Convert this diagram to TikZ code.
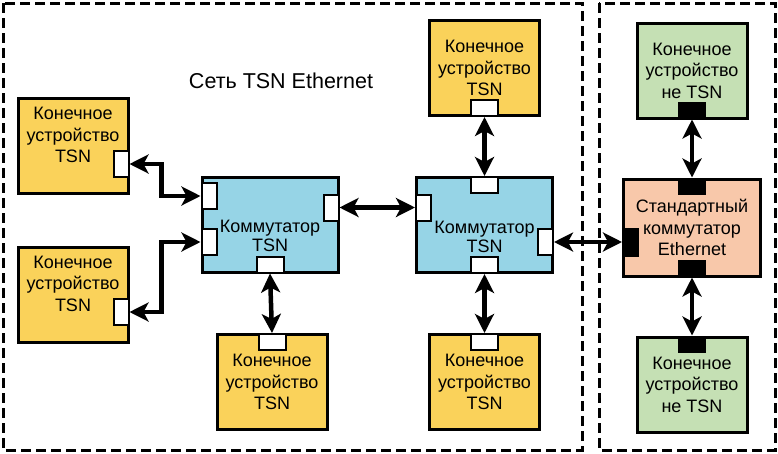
\documentclass[tikz,border=0pt]{standalone}
\usepackage{fontspec}
\setmainfont{Liberation Sans}
\usetikzlibrary{positioning}
\usetikzlibrary{arrows.meta}

\definecolor{endtsn}{RGB}{250,210,90}
\definecolor{swtsn}{RGB}{150,212,230}
\definecolor{stdsw}{RGB}{248,200,170}
\definecolor{endstd}{RGB}{197,224,180}

\tikzset{
	box/.style={draw, line width=3pt, minimum width=110pt, minimum height=95pt, inner sep=0pt},
	endbox/.style={box, fill=endtsn},
	grbox/.style={box, fill=endstd},
	swbox/.style={box, fill=swtsn, minimum width=136pt},
	stdbox/.style={box, fill=stdsw, minimum width=137pt, minimum height=97pt},
	vport/.style={draw, fill=white, line width=2pt, minimum width=15pt, minimum height=26pt, inner sep=0pt},
	hport/.style={draw, fill=white, line width=2pt, minimum width=27pt, minimum height=16pt, inner sep=0pt},
	vblk/.style={fill=black, minimum width=17pt, minimum height=29pt, inner sep=0pt},
	hblk/.style={fill=black, minimum width=28pt, minimum height=17pt, inner sep=0pt},
	txt/.style={align=center, inner sep=0pt, font=\fontsize{18}{21.5}\selectfont},
	link/.style={line width=4.5pt, {Stealth[length=19pt,width=19pt,inset=5pt]}-{Stealth[length=19pt,width=19pt,inset=5pt]}},
	zone/.style={line width=3pt, dash pattern=on 10pt off 5pt}
}

\begin{document}
\begin{tikzpicture}[x=1pt, y=-1pt]
	\useasboundingbox (0,0) rectangle (778,453);

	% zones
	\draw[zone] (3,3) rectangle (582,450);
	\draw[zone] (599,3) rectangle (775,450);
	\node[font=\fontsize{21.5}{25}\selectfont] (title) at (281,81) {Сеть TSN Ethernet};

	% end devices TSN
	\node[endbox] (endtl) at (73,146) {};
	\node[endbox] (endbl) at (73,294.5) {};
	\node[endbox] (endtm) at (484.5,68) {};
	\node[endbox] (endbm) at (272,382) {};
	\node[endbox] (endbr) at (484.5,382) {};
	\node[txt] (endtltxt) at ([yshift=11pt]endtl.center) {Конечное\\устройство\\TSN};
	\node[txt] (endbltxt) at ([yshift=11pt]endbl.center) {Конечное\\устройство\\TSN};
	\node[txt] (endtmtxt) at (endtm.center) {Конечное\\устройство\\TSN};
	\node[txt] (endbmtxt) at (endbm.center) {Конечное\\устройство\\TSN};
	\node[txt] (endbrtxt) at (endbr.center) {Конечное\\устройство\\TSN};

	% switches TSN
	\node[swbox] (swl) at (270,224.5) {};
	\node[swbox] (swr) at (484.5,225) {};
	\node[txt, font=\fontsize{18}{19.5}\selectfont] (swltxt) at ([yshift=-11.5pt]swl.center) {Коммутатор\\TSN};
	\node[txt, font=\fontsize{18}{19.5}\selectfont] (swrtxt) at ([yshift=-12pt]swr.center) {Коммутатор\\TSN};

	% standard part
	\node[stdbox] (std) at (692,227.5) {};
	\node[grbox] (grt) at (692,70.5) {};
	\node[grbox] (grb) at (692,384.5) {};
	\node[txt] (stdtxt) at (std.center) {Стандартный\\коммутатор\\Ethernet};
	\node[txt] (grttxt) at (grt.center) {Конечное\\устройство\\не TSN};
	\node[txt] (grbtxt) at (grb.center) {Конечное\\устройство\\не TSN};

	% ports
	\node[vport, anchor=east] (endtlp) at (endtl.east |- 0,164) {};
	\node[vport, anchor=east] (endblp) at (endbl.east |- 0,312) {};
	\node[hport, anchor=south] (endtmp) at (endtm.south) {};
	\node[hport, anchor=north] (endbmp) at (endbm.north) {};
	\node[hport, anchor=north] (endbrp) at (endbr.north) {};
	\node[vport, anchor=west] (swlpa) at (swl.west |- 0,196) {};
	\node[vport, anchor=west] (swlpb) at (swl.west |- 0,242) {};
	\node[vport, anchor=east] (swlpr) at (swl.east |- 0,207.5) {};
	\node[hport, anchor=south] (swlps) at (swl.south) {};
	\node[vport, anchor=west] (swrpl) at (swr.west |- 0,207.5) {};
	\node[vport, anchor=east] (swrpr) at (swr.east |- 0,242) {};
	\node[hport, anchor=north] (swrpn) at (swr.north) {};
	\node[hport, anchor=south] (swrps) at (swr.south) {};
	\node[vblk, anchor=west] (stdpl) at (std.west |- 0,242) {};
	\node[hblk, anchor=north] (stdpn) at (std.north) {};
	\node[hblk, anchor=south] (stdps) at (std.south) {};
	\node[hblk, anchor=south] (grtp) at (grt.south) {};
	\node[hblk, anchor=north] (grbp) at (grb.north) {};

	% links
	\draw[link] (endtlp.east) -- ++(32,0) |- (swlpa.west);
	\draw[link] (endblp.east) -- ++(32,0) |- (swlpb.west);
	\draw[link] (swlpr.east) -- (swrpl.west);
	\draw[link] (swlps.south) -- (endbmp.north);
	\draw[link] (swrpn.north) -- (endtmp.south);
	\draw[link] (swrps.south) -- (endbrp.north);
	\draw[link] (swrpr.east) -- (stdpl.west);
	\draw[link] (stdpn.north) -- (grtp.south);
	\draw[link] (stdps.south) -- (grbp.north);
\end{tikzpicture}
\end{document}
